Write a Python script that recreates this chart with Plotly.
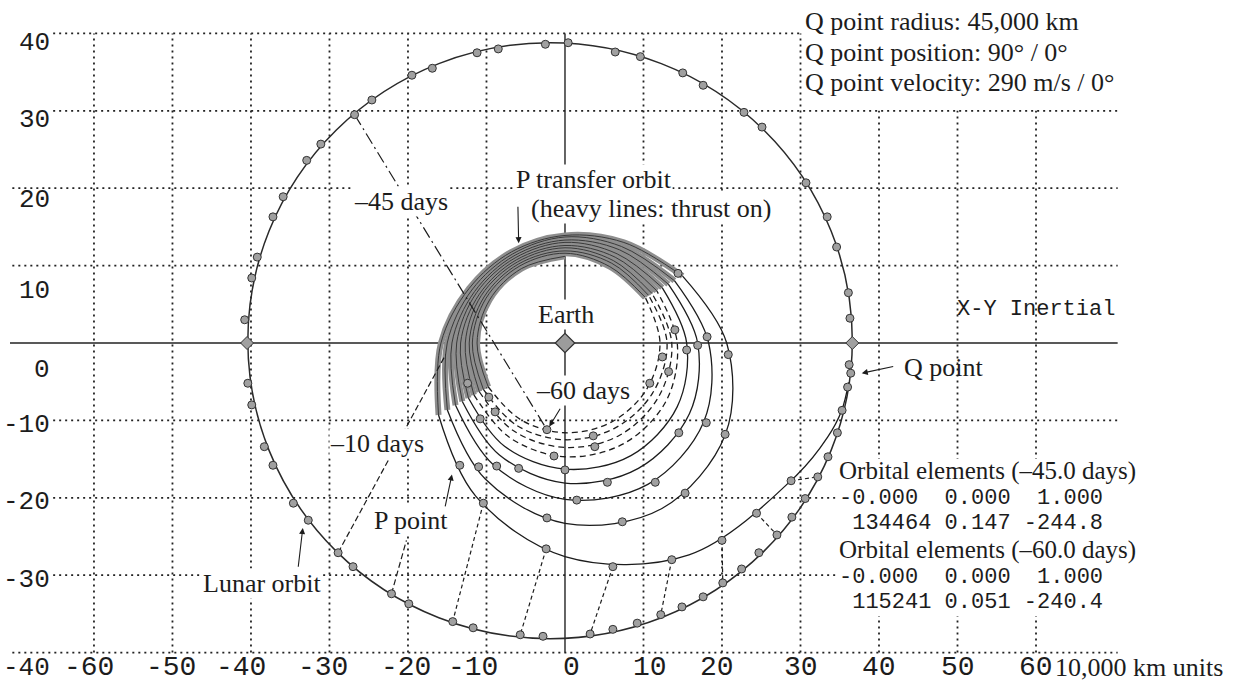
import numpy as np
import plotly.graph_objects as go

W, H = 1242, 686
X_RANGE = [-71.97, 86.24]
Y_RANGE = [-44.32, 44.32]

# ---- axes / grid -------------------------------------------------------
GRID_X = [-60, -50, -40, -30, -20, -10, 10, 20, 30, 40, 50, 60]
GRID_Y = [40, 30, 20, 10, -10, -20, -30, -40]
X_TICKS = [-60, -50, -40, -30, -20, -10, 0, 10, 20, 30, 40, 50, 60]
Y_TICKS = [40, 30, 20, 10, 0, -10, -20, -30, -40]

# ---- lunar orbit (10,000 km units) ------------------------------------
LUNAR_CENTER = (-1.9, 0.3)
LUNAR_RADIUS = 38.5
LUNAR_MARK_X = [36.3, 36.1, 34.6, 33.4, 30.7, 25.1, 22.8, 17.6, 15.0, 9.6, 6.4, 0.4,
                -2.5, -8.5, -11.2, -16.9, -19.5, -24.6, -26.8, -31.1, -32.9, -35.9,
                -37.2, -39.2, -39.9, -40.8, -40.4, -39.9, -38.3, -37.2, -34.6, -32.7,
                -28.9, -27.0, -22.1, -19.9, -14.3, -11.7, -5.7, -2.8, 3.2, 6.1, 9.2,
                12.2, 14.9, 17.6, 20.1, 22.5, 24.7, 27.0, 28.9, 30.6, 32.2, 33.5, 34.7,
                35.3, 36.0, 36.4, 36.2]
LUNAR_MARK_Y = [3.2, 6.5, 12.4, 16.3, 20.7, 27.9, 29.8, 33.3, 34.9, 37.0, 37.6, 38.8,
                38.6, 38.0, 37.5, 35.5, 34.6, 31.4, 29.5, 25.7, 23.6, 18.9, 16.3, 11.1,
                8.4, 3.0, -5.2, -8.0, -13.4, -15.8, -20.7, -22.9, -27.1, -28.9, -32.4,
                -33.7, -36.0, -36.8, -37.7, -37.9, -37.6, -37.0, -36.2, -35.1, -34.1,
                -32.8, -31.0, -29.2, -27.1, -24.8, -22.5, -20.1, -17.3, -14.7, -11.6,
                -8.7, -5.7, -3.9, -2.8]
AXIS_CROSS_X = [-40.5, 36.6]
AXIS_CROSS_Y = [0.0, 0.0]

# ---- P transfer orbit: radius per loop at fixed polar angles ----------
SPIRAL_ANGLES = [90, 120, 150, 180, 210, 240, 270, 300, 330, 360, 390, 420]
SPIRAL_RADII = [
    [11.2, 11.1, 11.1, 11.2, 11.3, 11.4, 11.6, 11.8, 12.0, 12.1, 11.8, 11.4],
    [11.6, 11.5, 11.6, 11.8, 12.0, 12.3, 12.5, 12.7, 12.9, 13.0, 12.3, 11.9],
    [11.9, 11.8, 11.9, 12.2, 12.6, 13.1, 13.5, 13.8, 13.8, 13.6, 12.8, 12.3],
    [12.3, 12.1, 12.3, 12.7, 13.4, 14.1, 14.7, 15.0, 14.9, 14.3, 13.5, 12.8],
    [12.6, 12.4, 12.6, 13.3, 14.2, 15.4, 16.3, 16.8, 16.5, 15.5, 14.3, 13.3],
    [13.0, 12.7, 13.0, 13.8, 15.1, 16.7, 18.1, 18.7, 18.3, 16.9, 15.2, 13.9],
    [13.3, 13.0, 13.3, 14.4, 16.1, 18.2, 20.2, 21.1, 20.4, 18.3, 16.1, 14.4],
    [13.7, 13.3, 13.7, 15.0, 17.3, 20.3, 23.3, 24.7, 23.6, 20.6, 17.3, 15.0],
]
FINAL_ANGLES = [90, 120, 150, 180, 210, 240, 270, 300, 330, 340, 346, 352]
FINAL_RADII = [13.9, 13.6, 14.1, 15.8, 18.6, 22.8, 27.6, 31.6, 34.1, 35.6, 36.3, 36.5]
DASHED_LOOPS = 4          # inner loops drawn with dashed coast arcs
THRUST_ARC = (30, 210)    # polar angles where thrust is on

SPIRAL_MARK_X = [-12.4, -9.7, -8.9, -10.8, -13.4, -11.0, -8.7, -5.9, -2.3, -1.4, 3.6, 3.8,
                 0.0, 5.4, 1.5, -2.3, 7.3, -10.4, -2.4, 6.1, 13.6, 20.0, 24.4, 28.8,
                 15.3, 11.5, 14.5, 18.0, 20.4, 20.8, 18.1, 16.9, 15.5, 14.0, 12.4, 13.2,
                 10.8, 14.4]
SPIRAL_MARK_Y = [-5.2, -7.0, -8.9, -9.8, -15.8, -16.0, -15.9, -16.2, -11.2, -14.6, -12.0,
                 -13.4, -16.4, -18.0, -20.3, -22.6, -23.1, -20.7, -26.6, -28.9, -28.0,
                 -25.5, -22.0, -17.8, -19.4, -18.0, -11.6, -10.3, -11.8, -1.5, 0.8, -0.3,
                 -0.9, 1.7, -1.8, -3.7, -5.2, 9.0]

# time-correspondence links: transfer orbit position -> lunar position
LINK_FROM = [(-10.4, -20.7), (-2.4, -26.6), (6.1, -28.9), (13.6, -28.0),
             (20.0, -25.5), (24.4, -22.0), (28.8, -17.8)]
LINK_TO = [(-14.3, -36.0), (-5.7, -37.7), (3.2, -37.6), (12.2, -35.1),
           (20.1, -31.0), (27.0, -24.8), (32.2, -17.3)]
DAY45_LINE = [(-26.8, 29.5), (-2.3, -11.2)]
DAY10_LINE = [(-28.9, -27.1), (-15.2, -1.5)]
PPOINT_LINE = [(-22.1, -32.4), (-20.2, -25.5)]

ELEMENT_TITLES = ["Orbital elements (\u201345.0 days)", "Orbital elements (\u201360.0 days)"]
ELEMENT_ROWS = [["-0.000  0.000  1.000", " 134464 0.147 -244.8"],
                ["-0.000  0.000  1.000", " 115241 0.051 -240.4"]]
Q_INFO = ["Q point radius: 45,000 km", "Q point position: 90\u00b0 / 0\u00b0",
          "Q point velocity: 290 m/s / 0\u00b0"]

SERIF = "Liberation Serif, Times New Roman, serif"
MONO = "Liberation Mono, DejaVu Sans Mono, monospace"
INK = "#1c1c1c"


def px_x(p):
    return p / W


def px_y(p):
    return 1 - p / H


def data_x(p):
    return X_RANGE[0] + p / W * (X_RANGE[1] - X_RANGE[0])


def data_y(p):
    return Y_RANGE[1] - p / H * (Y_RANGE[1] - Y_RANGE[0])


fig = go.Figure()

# ---- shapes: grid, axes, lunar orbit ----------------------------------
shapes = []
grid_line = dict(color="#222", width=1.8, dash="2px,4px")
for gx in GRID_X:
    top = 40 if gx <= 30 else 30
    shapes.append(dict(type="line", xref="x", yref="y", x0=gx, x1=gx, y0=-40, y1=top,
                       line=grid_line, layer="below"))
for gy in GRID_Y:
    left = -70.4 if gy in (20, 10, -40) else -65.2
    right = 30.3 if gy == 40 else 70.4
    shapes.append(dict(type="line", xref="x", yref="y", x0=left, x1=right, y0=gy, y1=gy,
                       line=grid_line, layer="below"))
# clear panel behind the orbital-element read-out
shapes.append(dict(type="rect", xref="x", yref="y", x0=data_x(836), x1=data_x(1172),
                   y0=data_y(616), y1=data_y(459), fillcolor="white", line=dict(width=0),
                   layer="below"))
axis_line = dict(color="#222", width=1.4)
shapes.append(dict(type="line", xref="x", yref="y", x0=0, x1=0, y0=-40, y1=40,
                   line=axis_line, layer="below"))
shapes.append(dict(type="line", xref="x", yref="y", x0=-70.7, x1=70.4, y0=0, y1=0,
                   line=axis_line, layer="below"))
cx, cy = LUNAR_CENTER
shapes.append(dict(type="circle", xref="x", yref="y", x0=cx - LUNAR_RADIUS,
                   x1=cx + LUNAR_RADIUS, y0=cy - LUNAR_RADIUS, y1=cy + LUNAR_RADIUS,
                   line=dict(color="#2a2a2a", width=1.5), layer="below"))

# ---- transfer orbit spiral --------------------------------------------
pts = []
for k, radii in enumerate(SPIRAL_RADII):
    for a, r in zip(SPIRAL_ANGLES, radii):
        pts.append((a + 360 * k, r, k))
for a, r in zip(FINAL_ANGLES, FINAL_RADII):
    pts.append((a + 360 * len(SPIRAL_RADII), r, len(SPIRAL_RADII)))

ang = np.radians([p[0] for p in pts])
rad = np.array([p[1] for p in pts])
sx = rad * np.cos(ang)
sy = rad * np.sin(ang)

segments = []
for i in range(len(pts) - 1):
    mid = ((pts[i][0] + pts[i + 1][0]) / 2) % 360
    kind = "thrust" if THRUST_ARC[0] < mid < THRUST_ARC[1] else "coast"
    loop = pts[i][2]
    if segments and segments[-1]["kind"] == kind and segments[-1]["loop"] == loop:
        segments[-1]["idx"].append(i + 1)
    elif segments and segments[-1]["kind"] == kind and kind == "thrust":
        segments[-1]["idx"].append(i + 1)
    else:
        segments.append(dict(kind=kind, loop=loop, idx=[i, i + 1]))

for seg in segments:
    if seg["kind"] == "thrust":
        fig.add_trace(go.Scatter(x=sx[seg["idx"]], y=sy[seg["idx"]], mode="lines",
                                 line=dict(color="#8e8e8e", width=6, shape="spline"),
                                 hoverinfo="skip", showlegend=False))
for seg in segments:
    if seg["kind"] == "thrust":
        style = dict(color="#3a3a3a", width=1, shape="spline")
    elif seg["loop"] < DASHED_LOOPS:
        style = dict(color=INK, width=1.3, shape="spline", dash="6px,4px")
    else:
        style = dict(color=INK, width=1.3, shape="spline")
    fig.add_trace(go.Scatter(x=sx[seg["idx"]], y=sy[seg["idx"]], mode="lines", line=style,
                             hoverinfo="skip", showlegend=False))

# ---- connecting lines ---------------------------------------------------
for (x0, y0), (x1, y1) in zip(LINK_FROM, LINK_TO):
    fig.add_trace(go.Scatter(x=[x0, x1], y=[y0, y1], mode="lines",
                             line=dict(color=INK, width=1.2, dash="4px,3px"),
                             hoverinfo="skip", showlegend=False))
fig.add_trace(go.Scatter(x=[p[0] for p in DAY45_LINE], y=[p[1] for p in DAY45_LINE],
                         mode="lines", line=dict(color=INK, width=1.2, dash="12px,4px,2px,4px"),
                         hoverinfo="skip", showlegend=False))
for line_pts in (DAY10_LINE, PPOINT_LINE):
    fig.add_trace(go.Scatter(x=[p[0] for p in line_pts], y=[p[1] for p in line_pts],
                             mode="lines", line=dict(color=INK, width=1.2, dash="6px,3px"),
                             hoverinfo="skip", showlegend=False))

# ---- markers ------------------------------------------------------------
marker_style = dict(symbol="circle", size=8, color="#a0a0a0",
                    line=dict(color="#333", width=1))
fig.add_trace(go.Scatter(x=LUNAR_MARK_X, y=LUNAR_MARK_Y, mode="markers", marker=marker_style,
                         hoverinfo="skip", showlegend=False))
fig.add_trace(go.Scatter(x=SPIRAL_MARK_X, y=SPIRAL_MARK_Y, mode="markers", marker=marker_style,
                         hoverinfo="skip", showlegend=False))
fig.add_trace(go.Scatter(x=AXIS_CROSS_X, y=AXIS_CROSS_Y, mode="markers",
                         marker=dict(symbol="diamond", size=10, color="#a0a0a0",
                                     line=dict(color="#333", width=1)),
                         hoverinfo="skip", showlegend=False))
fig.add_trace(go.Scatter(x=[0], y=[0], mode="markers",
                         marker=dict(symbol="diamond", size=15, color="#9c9c9c",
                                     line=dict(color="#333", width=1.2)),
                         hoverinfo="skip", showlegend=False))

# ---- text ---------------------------------------------------------------
ann = []
Y_TICK_SHIFT = [-10, -9, -12, -25, -27, -5, -4, -5, -15]
for v, dy in zip(Y_TICKS, Y_TICK_SHIFT):
    ann.append(dict(x=px_x(52), xref="paper", y=v, yref="y", yshift=dy, text=str(v),
                    xanchor="right", yanchor="middle", showarrow=False,
                    font=dict(family=MONO, size=26, color=INK)))
X_TICK_SHIFT = [-5, -1, -10, -6, -2, -13, 7, 7, -5, 0, 0, 0, 0]
for v, dx in zip(X_TICKS, X_TICK_SHIFT):
    ann.append(dict(x=v, xref="x", xshift=dx, y=px_y(667), yref="paper", text=str(v),
                    xanchor="center", yanchor="middle", showarrow=False,
                    font=dict(family=MONO, size=28, color=INK)))


def label(text, x, y, size=26, family=SERIF, anchor="left", bg=None):
    d = dict(x=px_x(x), y=px_y(y), xref="paper", yref="paper", text=text,
             xanchor=anchor, yanchor="middle", showarrow=False,
             font=dict(family=family, size=size, color=INK))
    if bg:
        d.update(bgcolor=bg, borderpad=0)
    ann.append(d)


label("10,000 km units", 1053, 667)
for i, t in enumerate(Q_INFO):
    label(t, 803, [22, 53, 83][i])
label("X-Y Inertial", 955, 310, size=22, family=MONO)
label("Q point", 902, 367)

# orbital-element read-outs: serif title over two monospaced rows
for title, rows, top in zip(ELEMENT_TITLES, ELEMENT_ROWS, [456, 535]):
    block = ["<span style=\"font-family:'Liberation Serif',serif;font-size:25px\">"
             + title + "</span>"]
    for row in rows:
        block.append("<span style=\"font-family:'Liberation Mono',monospace;font-size:22px\">"
                     + row.replace(" ", "\u00a0") + "</span>")
    ann.append(dict(x=px_x(838), y=px_y(top), xref="paper", yref="paper",
                    text="<br>".join(block), align="left", xanchor="left", yanchor="top",
                    showarrow=False, borderpad=0,
                    font=dict(family=SERIF, size=19.25, color=INK)))

label("P transfer orbit", 515, 180, bg="white")
label("(heavy lines: thrust on)", 530, 208, bg="white")
label("\u201345 days", 353, 202, bg="white")
label("Earth", 537, 315, bg="white")
label("\u201360 days", 535, 390, bg="white")
label("\u201310 days", 329, 443, bg="white")
label("P point", 373, 520, bg="white")
label("Lunar orbit", 202, 583, bg="white")


def arrow(tip, tail):
    ann.append(dict(x=tip[0], y=tip[1], ax=tail[0], ay=tail[1], xref="x", yref="y",
                    axref="x", ayref="y", text="", showarrow=True, arrowhead=2,
                    arrowsize=1.1, arrowwidth=1.1, arrowcolor=INK))


arrow((37.8, -3.9), (42.0, -3.0))
arrow((-5.9, 12.9), (-6.0, 17.8))
arrow((-33.4, -23.9), (-34.0, -29.1))
arrow((-14.4, -17.0), (-15.3, -21.3))
arrow((-2.0, -10.8), (-0.5, -8.3))

fig.update_layout(
    width=W, height=H, margin=dict(l=0, r=0, t=0, b=0),
    paper_bgcolor="white", plot_bgcolor="white",
    xaxis=dict(range=X_RANGE, visible=False, fixedrange=True),
    yaxis=dict(range=Y_RANGE, visible=False, fixedrange=True),
    shapes=shapes, annotations=ann, showlegend=False,
)

fig.write_html("out.html")
